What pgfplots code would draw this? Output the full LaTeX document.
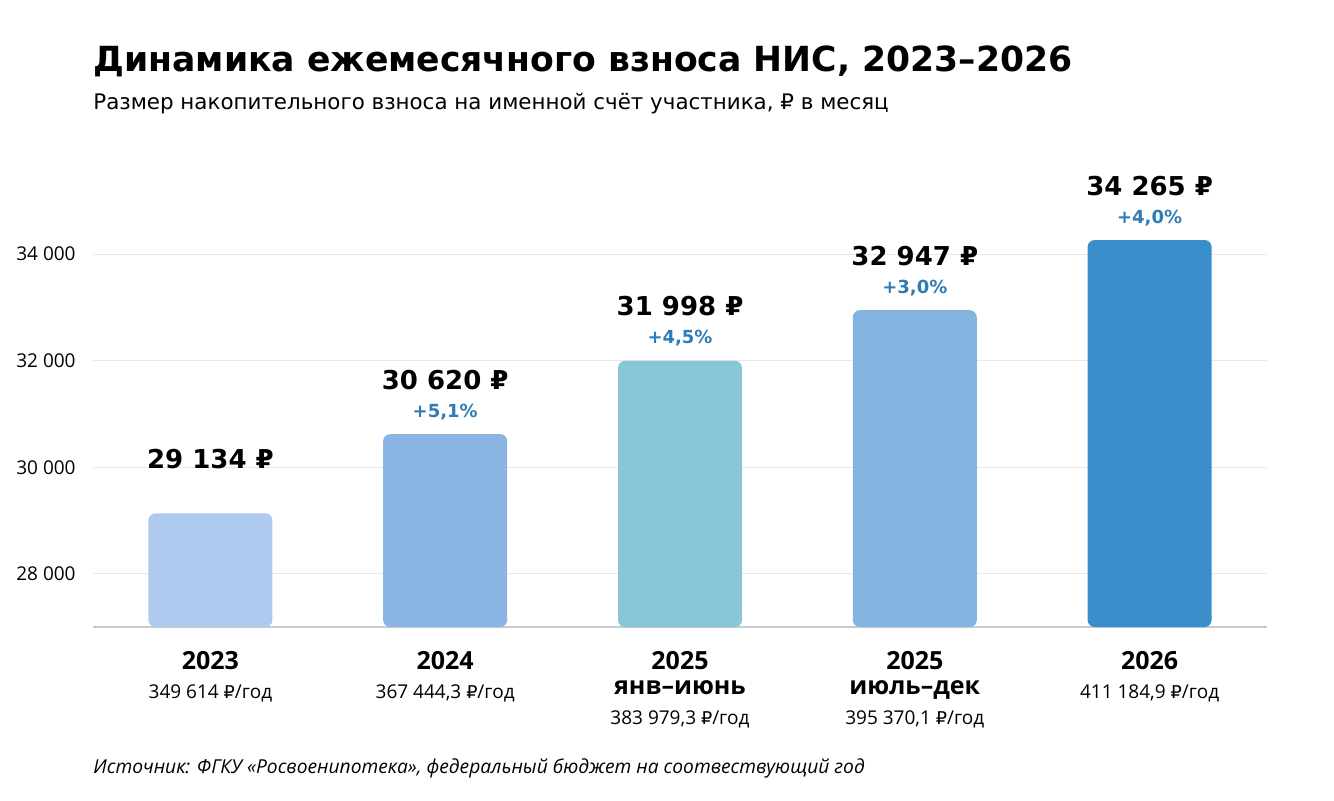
\documentclass[border=0pt]{standalone}
\usepackage{pgfplots}
\pgfplotsset{compat=1.18}
\usepackage{fontspec}
\setmainfont{Open Sans}
\newfontfamily\dejavu{DejaVu Sans}
\newcommand{\rub}{{\dejavu\fontsize{8.8}{10}\selectfont ₽}}
\definecolor{cA}{HTML}{AECBEF}
\definecolor{cB}{HTML}{8AB4E4}
\definecolor{cC}{HTML}{89C6D7}
\definecolor{cD}{HTML}{82B4DF}
\definecolor{cE}{HTML}{3A8FCB}
\definecolor{pct}{HTML}{2E7CB6}
\definecolor{gridc}{HTML}{E6E8EB}
\definecolor{basec}{HTML}{C5CBD1}
\newcommand{\valfont}{\dejavu\bfseries\fontsize{13}{15}\selectfont}
\newcommand{\pctfont}{\dejavu\bfseries\fontsize{9}{11}\selectfont\color{pct}}
\newcommand{\yr}[1]{\textbf{\fontsize{12.5}{14.5}\selectfont #1}}
\begin{document}
\begin{tikzpicture}
\useasboundingbox (0,0) rectangle (667pt,400pt);
\node[anchor=base west, inner sep=0pt, font=\dejavu\bfseries\fontsize{17.3}{20}\selectfont] at (46.5pt,364pt) {Динамика ежемесячного взноса НИС, 2023–2026};
\node[anchor=base west, inner sep=0pt, font=\dejavu\fontsize{10.7}{12}\selectfont] at (46.5pt,345pt) {Размер накопительного взноса на именной счёт участника, ₽ в месяц};
\node[anchor=base west, inner sep=0pt, font=\itshape\fontsize{9.6}{12}\selectfont] at (46.5pt,13.5pt) {Источник: ФГКУ «Росвоенипотека», федеральный бюджет на соотвествующий год};
\begin{axis}[
  at={(46.5pt,86.5pt)}, anchor=south west,
  scale only axis, width=587pt, height=229.05pt,
  xmin=-0.5, xmax=4.5, ymin=27000, ymax=35600,
  scaled y ticks=false,
  axis x line*=bottom, axis y line*=left,
  y axis line style={draw=none},
  x axis line style={draw=basec, line width=0.8pt, -},
  major tick length=0pt,
  ymajorgrids, grid style={draw=gridc, line width=0.5pt},
  ytick={28000,30000,32000,34000},
  yticklabels={28 000,30 000,32 000,34 000},
  yticklabel style={font=\fontsize{9.5}{11}\selectfont, inner sep=0pt, anchor=east, xshift=-8.5pt},
  xtick={0,1,2,3,4},
  xticklabels={
    {\yr{2023}\\349 614 \rub/год},
    {\yr{2024}\\367 444,3 \rub/год},
    {\yr{2025}\\[-2pt]\yr{янв–июнь}\\[0.5pt]383 979,3 \rub/год},
    {\yr{2025}\\[-2pt]\yr{июль–дек}\\[0.5pt]395 370,1 \rub/год},
    {\yr{2026}\\411 184,9 \rub/год}},
  xticklabel style={align=center, anchor=north, inner sep=0pt, yshift=-12pt, font=\fontsize{9.5}{14.5}\selectfont},
  bar width=62pt,
  every node near coord/.append style={anchor=base, inner sep=0pt},
]
\addplot[ybar, bar shift=0pt, fill=cA, draw=none, rounded corners=3.5pt,
  nodes near coords={\valfont 29 134 ₽}, every node near coord/.append style={yshift=22.5pt}] coordinates {(0,29134)};
\addplot[ybar, bar shift=0pt, fill=cB, draw=none, rounded corners=3.5pt,
  nodes near coords={\valfont 30 620 ₽}, every node near coord/.append style={yshift=22.5pt}] coordinates {(1,30620)};
\addplot[ybar, bar shift=0pt, fill=cC, draw=none, rounded corners=3.5pt,
  nodes near coords={\valfont 31 998 ₽}, every node near coord/.append style={yshift=22.5pt}] coordinates {(2,31998)};
\addplot[ybar, bar shift=0pt, fill=cD, draw=none, rounded corners=3.5pt,
  nodes near coords={\valfont 32 947 ₽}, every node near coord/.append style={yshift=22.5pt}] coordinates {(3,32947)};
\addplot[ybar, bar shift=0pt, fill=cE, draw=none, rounded corners=3.5pt,
  nodes near coords={\valfont 34 265 ₽}, every node near coord/.append style={yshift=22.5pt}] coordinates {(4,34265)};
\addplot[draw=none, mark=none, nodes near coords={\pctfont +5,1\%}, every node near coord/.append style={yshift=8.5pt}] coordinates {(1,30620)};
\addplot[draw=none, mark=none, nodes near coords={\pctfont +4,5\%}, every node near coord/.append style={yshift=8.5pt}] coordinates {(2,31998)};
\addplot[draw=none, mark=none, nodes near coords={\pctfont +3,0\%}, every node near coord/.append style={yshift=8.5pt}] coordinates {(3,32947)};
\addplot[draw=none, mark=none, nodes near coords={\pctfont +4,0\%}, every node near coord/.append style={yshift=8.5pt}] coordinates {(4,34265)};
\end{axis}
\end{tikzpicture}
\end{document}
